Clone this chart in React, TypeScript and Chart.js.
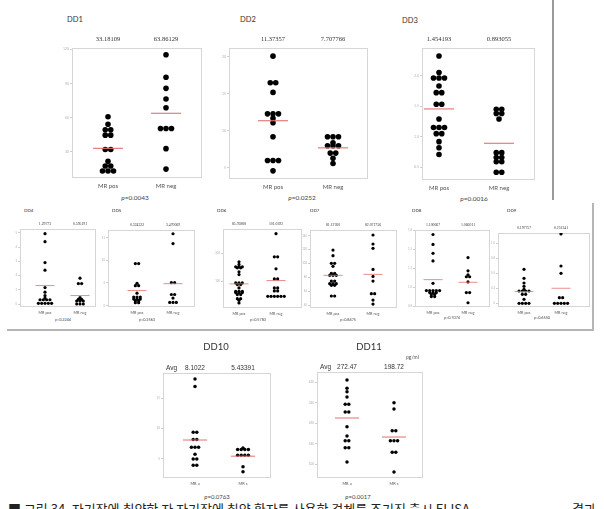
import React, { useEffect, useRef } from "react";
import { Chart, registerables } from "chart.js";
Chart.register(...registerables);

// ---------- data ----------
const categories = ["MR pos", "MR neg"];
const shortCategories = ["MR a", "MR s"];

const dd1Pos = [60.8, 54.3, 49.4, 49.4, 44.7, 44.7, 32.1, 32.1, 21.8, 17.7, 17.7, 13.3, 13.3, 13.3];
const dd1Neg = [115.1, 95.4, 85.7, 76.3, 68.7, 50.5, 50.5, 50.5, 32.9, 15.0];
const dd1Means = [33.18109, 63.86129];
const dd1Avg = ["33.18109", "63.86129"];
const dd1Ticks = [30, 60, 90, 120];
const dd1P = "0.0043";

const dd2Pos = [20.1, 16.5, 16.5, 15.2, 12.3, 12.3, 12.3, 11.7, 11.1, 9.2, 6.0, 6.0, 6.0, 4.6];
const dd2Neg = [9.2, 9.2, 9.2, 8.4, 8.0, 8.0, 8.0, 7.0, 7.0, 6.3, 5.6];
const dd2Means = [11.37357, 7.707766];
const dd2Avg = ["11.37357", "7.707766"];
const dd2Ticks = [5, 10, 15, 20];
const dd2P = "0.0252";

const dd3Pos = [2.32, 2.05, 1.96, 1.96, 1.96, 1.83, 1.72, 1.72, 1.53, 1.53, 1.29, 1.15, 1.15, 1.15, 1.05, 1.05, 0.92, 0.82, 0.71];
const dd3Neg = [1.45, 1.45, 1.38, 1.38, 1.29, 0.74, 0.74, 0.66, 0.66, 0.59, 0.59, 0.42, 0.42];
const dd3Means = [1.454193, 0.893055];
const dd3Avg = ["1.454193", "0.893055"];
const dd3Ticks = [0.5, 1.0, 1.5, 2.0];
const dd3P = "0.0016";

const dd4Pos = [4.95, 4.39, 2.92, 2.38, 1.16, 0.83, 0.59, 0.42, 0.3, 0.3, 0.3, 0.3, 0.05, 0.05, 0.05, 0.05, 0.05];
const dd4Neg = [1.82, 1.44, 1.44, 0.45, 0.33, 0.33, 0.21, 0.21, 0.21, 0.0, 0.0, 0.0];
const dd4Means = [1.298, 0.595];
const dd4Avg = ["1.29773", "0.595191"];
const dd4Ticks = [0, 1, 2, 3, 4, 5];
const dd4P = "0.2244";

const dd5Pos = [9.28, 9.28, 4.93, 4.41, 4.41, 2.76, 1.89, 1.89, 1.89, 1.46, 1.46, 1.46, 1.09, 1.09, 0.65, 0.65];
const dd5Neg = [15.87, 13.7, 5.07, 5.07, 2.46, 2.46, 1.67, 0.72, 0.72, 0.72];
const dd5Means = [3.33, 4.85];
const dd5Avg = ["0.324322", "3.470069"];
const dd5Ticks = [0, 5, 10, 15];
const dd5P = "0.2563";

const dd6Pos = [169.9, 160.3, 151.8, 151.8, 151.8, 148.2, 148.2, 133.7, 124.1, 94, 94, 94, 88, 88, 75.9, 63.9, 63.9, 63.9, 59, 59, 59, 51.8, 51.8, 37.3, 37.3, 31.3, 21.7];
const dd6Neg = [271.1, 188, 188, 144.6, 108.4, 108.4, 75.9, 75.9, 65, 65, 45.8, 45.8, 45.8, 45.8, 45.8, 45.8];
const dd6Means = [90.4, 102.4];
const dd6Avg = ["85.76808", "101.0392"];
const dd6Ticks = [100, 200];
const dd6P = "0.5783";

const dd7Pos = [119.3, 111.2, 100.1, 100.1, 95.8, 85.7, 85.7, 82.8, 82.8, 82.8, 74.6, 74.6, 70.8, 70.8, 70.8, 68.4, 68.4, 53.0, 53.0];
const dd7Neg = [141, 128, 121.7, 91.4, 81.3, 74.6, 56.3, 56.3, 47.2, 41.4];
const dd7Means = [82.8, 84.2];
const dd7Avg = ["81.12760", "82.071756"];
const dd7Ticks = [40, 60, 80, 100, 120, 140];
const dd7P = "0.8475";

const dd8Pos = [1.696, 1.565, 1.448, 1.348, 1.052, 0.957, 0.957, 0.957, 0.957, 0.957, 0.93, 0.93, 0.93, 0.904, 0.904, 0.878, 0.878];
const dd8Neg = [1.391, 1.217, 1.165, 1.139, 1.139, 1.07, 0.93, 0.93, 0.796];
const dd8Means = [1.100667, 1.066011];
const dd8Avg = ["1.100667", "1.066011"];
const dd8Ticks = [0.75, 1.0, 1.25, 1.5, 1.75];
const dd8P = "0.7074";

const dd9Pos = [0.567, 0.417, 0.339, 0.283, 0.233, 0.206, 0.206, 0.206, 0.206, 0.15, 0.15, 0.067, 0, 0, 0, 0];
const dd9Neg = [1.156, 0.622, 0.5, 0.094, 0.094, 0, 0, 0, 0, 0];
const dd9Means = [0.197757, 0.251241];
const dd9Avg = ["0.197757", "0.251241"];
const dd9Ticks = [0, 0.25, 0.5, 0.75, 1.0];
const dd9P = "0.6550";

const dd10Pos = [18.17, 16.95, 9.38, 9.38, 8.17, 8.17, 6.92, 6.92, 6.92, 5.75, 4.97, 4.97, 3.92, 3.92];
const dd10Neg = [6.8, 6.55, 6.55, 6.55, 6.55, 5.6, 5.6, 5.6, 5.6, 3.67, 2.88];
const dd10Means = [8.1022, 5.4339];
const dd10Avg = ["8.1022", "5.43391"];
const dd10Ticks = [5, 10, 15];
const dd10P = "0.0763";

const dd11Pos = [429, 396.6, 383.3, 362.6, 334.1, 334.1, 304.1, 304.1, 246.7, 210.4, 192.1, 192.1, 164.8, 164.8, 109];
const dd11Neg = [340.4, 315.8, 231.1, 231.1, 192.1, 192.1, 192.1, 146.8, 146.8, 69.8];
const dd11Means = [280.7, 206.5];
const dd11Avg = ["272.47", "198.72"];
const dd11Ticks = [100, 180, 260, 340, 420];
const dd11P = "0.0017";

// ---------- layout ----------
type Size = "L" | "M" | "S";
type Panel = {
  name: string; pos: number[]; neg: number[]; means: number[]; avg: string[];
  ticks: number[]; yMin: number; yMax: number; p: string; cats: string[];
  box: number[]; cols: number[]; size: Size; title: number[]; pAt: number[]; avgPrefix?: boolean;
};

const STY: Record<Size, any> = {
  L: { r: 2.8, gap: 5.5, half: 15, lw: 1.1, padT: 14, padB: 13, padL: 16, padR: 3, avgFont: '6.5px "Liberation Serif"', avgOff: 9, xFont: 6, xPad: 4, tFont: 7.5, pFont: 6.5, tickFont: 3.5 },
  M: { r: 1.6, gap: 3.3, half: 9.5, lw: 0.8, padT: 9, padB: 10, padL: 14, padR: 3, avgFont: '3.8px "Liberation Serif"', avgOff: 5, xFont: 3.8, xPad: 3.5, tFont: 4.5, pFont: 3.8, tickFont: 2.8 },
  S: { r: 1.75, gap: 3.6, half: 12, lw: 1, padT: 9, padB: 9, padL: 14, padR: 3, avgFont: '6.5px "Liberation Sans"', avgOff: 5, xFont: 4, xPad: 3, tFont: 9.5, pFont: 6, tickFont: 3 },
};

const panels: Panel[] = [
  { name: "DD1", pos: dd1Pos, neg: dd1Neg, means: dd1Means, avg: dd1Avg, ticks: dd1Ticks, yMin: 7.2, yMax: 121, p: dd1P, cats: categories, box: [72, 48, 202, 178], cols: [108, 166], size: "L", title: [67, 19], pAt: [135, 198] },
  { name: "DD2", pos: dd2Pos, neg: dd2Neg, means: dd2Means, avg: dd2Avg, ticks: dd2Ticks, yMin: 3.5, yMax: 21.2, p: dd2P, cats: categories, box: [229, 48, 368, 179], cols: [273, 333], size: "L", title: [240, 19], pAt: [302, 198] },
  { name: "DD3", pos: dd3Pos, neg: dd3Neg, means: dd3Means, avg: dd3Avg, ticks: dd3Ticks, yMin: 0.293, yMax: 2.45, p: dd3P, cats: categories, box: [422, 48, 535, 180], cols: [439, 499], size: "L", title: [402, 20], pAt: [474, 199] },
  { name: "DD4", pos: dd4Pos, neg: dd4Neg, means: dd4Means, avg: dd4Avg, ticks: dd4Ticks, yMin: -0.21, yMax: 5.28, p: dd4P, cats: categories, box: [20, 229, 96, 307], cols: [45, 80], size: "M", title: [24, 211], pAt: [63, 320] },
  { name: "DD5", pos: dd5Pos, neg: dd5Neg, means: dd5Means, avg: dd5Avg, ticks: dd5Ticks, yMin: -0.3, yMax: 16.7, p: dd5P, cats: categories, box: [108, 230, 195, 307], cols: [137, 173], size: "M", title: [112, 211], pAt: [147, 320] },
  { name: "DD6", pos: dd6Pos, neg: dd6Neg, means: dd6Means, avg: dd6Avg, ticks: dd6Ticks, yMin: 3.6, yMax: 288, p: dd6P, cats: categories, box: [223, 229, 302, 308], cols: [239, 276], size: "M", title: [217, 211], pAt: [258, 320] },
  { name: "DD7", pos: dd7Pos, neg: dd7Neg, means: dd7Means, avg: dd7Avg, ticks: dd7Ticks, yMin: 35.7, yMax: 148.2, p: dd7P, cats: categories, box: [310, 230, 397, 308], cols: [333, 373], size: "M", title: [310, 211], pAt: [348, 320] },
  { name: "DD8", pos: dd8Pos, neg: dd8Neg, means: dd8Means, avg: dd8Avg, ticks: dd8Ticks, yMin: 0.74, yMax: 1.755, p: dd8P, cats: categories, box: [415, 230, 490, 307], cols: [433, 468], size: "M", title: [412, 211], pAt: [452, 318] },
  { name: "DD9", pos: dd9Pos, neg: dd9Neg, means: dd9Means, avg: dd9Avg, ticks: dd9Ticks, yMin: -0.061, yMax: 1.172, p: dd9P, cats: categories, box: [498, 233, 590, 307], cols: [524, 561], size: "M", title: [507, 211], pAt: [542, 318] },
  { name: "DD10", pos: dd10Pos, neg: dd10Neg, means: dd10Means, avg: dd10Avg, ticks: dd10Ticks, yMin: 1.83, yMax: 19.17, p: dd10P, cats: shortCategories, box: [163, 373, 271, 478], cols: [195, 243], size: "S", title: [216, 347], pAt: [217, 497], avgPrefix: true },
  { name: "DD11", pos: dd11Pos, neg: dd11Neg, means: dd11Means, avg: dd11Avg, ticks: dd11Ticks, yMin: 46.6, yMax: 460.2, p: dd11P, cats: shortCategories, box: [317, 372, 423, 478], cols: [347, 394], size: "S", title: [369, 347], pAt: [358, 497], avgPrefix: true },
];

function swarm(vals: number[], col: number, step: number) {
  const counts = new Map<number, number>();
  vals.forEach((v) => counts.set(v, (counts.get(v) || 0) + 1));
  const seen = new Map<number, number>();
  return vals.map((v) => {
    const k = counts.get(v) as number;
    const i = seen.get(v) || 0;
    seen.set(v, i + 1);
    return { x: col + (i - (k - 1) / 2) * step, y: v };
  });
}

function PanelChart({ p }: { p: Panel }) {
  const ref = useRef<HTMLCanvasElement>(null);
  const s = STY[p.size];
  const [l, t, r, b] = p.box;
  const W = r - l + s.padL + s.padR;
  const H = b - t + s.padT + s.padB;
  useEffect(() => {
    const unitPx = p.cols[1] - p.cols[0];
    const xMin = -(p.cols[0] - l) / unitPx;
    const xMax = 1 + (r - p.cols[1]) / unitPx;
    const step = s.gap / unitPx;
    const half = s.half / unitPx;
    const datasets: any[] = [
      ...[p.pos, p.neg].map((vals, i) => ({
        data: swarm(vals, i, step), pointRadius: s.r, pointHoverRadius: s.r,
        backgroundColor: "#000", borderColor: "#000", borderWidth: 0, order: 2,
      })),
      ...p.means.map((m, i) => ({
        data: [{ x: i - half, y: m }, { x: i + half, y: m }], showLine: true,
        borderColor: "#e46f6f", borderWidth: s.lw, pointRadius: 0, order: 1,
      })),
    ];
    const deco = {
      id: "deco",
      beforeDatasetsDraw(chart: any) {
        const { ctx, chartArea: a } = chart;
        ctx.save();
        ctx.strokeStyle = "#d6d6d6";
        ctx.lineWidth = 1;
        ctx.strokeRect(Math.round(a.left) + 0.5, Math.round(a.top) + 0.5, Math.round(a.right - a.left) - 1, Math.round(a.bottom - a.top) - 1);
        ctx.restore();
      },
      afterDraw(chart: any) {
        const { ctx, chartArea: a, scales } = chart;
        ctx.save();
        ctx.fillStyle = "#333";
        ctx.font = s.avgFont;
        ctx.textBaseline = "middle";
        ctx.textAlign = "center";
        p.avg.forEach((txt, i) => ctx.fillText(txt, scales.x.getPixelForValue(i), a.top - s.avgOff));
        if (p.avgPrefix) {
          ctx.textAlign = "left";
          ctx.fillText("Avg", a.left + 3, a.top - s.avgOff);
        }
        ctx.restore();
      },
    };
    const chart = new Chart(ref.current as HTMLCanvasElement, {
      type: "scatter",
      data: { datasets },
      options: {
        animation: false,
        responsive: false,
        maintainAspectRatio: false,
        devicePixelRatio: 1,
        layout: { padding: { top: s.padT, right: s.padR, left: 0, bottom: 0 } },
        plugins: { legend: { display: false }, tooltip: { enabled: false } },
        scales: {
          x: {
            type: "linear", min: xMin, max: xMax,
            afterBuildTicks: (ax: any) => { ax.ticks = [{ value: 0 }, { value: 1 }]; },
            afterFit: (ax: any) => { ax.height = s.padB; },
            grid: { display: false, drawTicks: false },
            border: { display: false },
            ticks: {
              autoSkip: false, maxRotation: 0, padding: s.xPad, color: "#555",
              font: { size: s.xFont, family: "Lato" },
              callback: (v: any) => p.cats[Math.round(Number(v))],
            },
          },
          y: {
            type: "linear", min: p.yMin, max: p.yMax,
            afterBuildTicks: (ax: any) => { ax.ticks = p.ticks.map((v) => ({ value: v })); },
            afterFit: (ax: any) => { ax.width = s.padL; },
            grid: { drawOnChartArea: false, drawTicks: true, tickLength: 2, color: "#cfcfcf" },
            border: { display: false },
            ticks: { color: "#b0b0b0", padding: 1, font: { size: s.tickFont, family: "Lato" } },
          },
        },
      },
      plugins: [deco],
    } as any);
    return () => chart.destroy();
  }, []);
  return (
    <canvas ref={ref} width={W} height={H}
      style={{ position: "absolute", left: l - s.padL, top: t - s.padT, width: W, height: H }} />
  );
}

function Txt({ x, y, size, children, center, family, color, italic }: any) {
  return (
    <div style={{
      position: "absolute", left: x, top: y - size * 0.6, fontSize: size, lineHeight: 1.2,
      whiteSpace: "nowrap", transform: center ? "translateX(-50%)" : undefined,
      fontFamily: family || "Lato, sans-serif", color: color || "#333", fontStyle: italic ? "italic" : "normal",
    }}>{children}</div>
  );
}

export default function App() {
  return (
    <div style={{ position: "absolute", left: 0, top: 0, width: 604, height: 509, overflow: "hidden", background: "#fff" }}>
      {/* frame lines */}
      <div style={{ position: "absolute", left: 552, top: 0, width: 1.5, height: 200, background: "#9a9a9a" }} />
      <div style={{ position: "absolute", left: 592, top: 203, width: 2, height: 128, background: "#b5b5b5" }} />
      <div style={{ position: "absolute", left: 7, top: 329, width: 587, height: 2, background: "#b5b5b5" }} />

      {panels.map((p) => {
        const s = STY[p.size];
        return (
          <React.Fragment key={p.name}>
            <PanelChart p={p} />
            <Txt x={p.title[0]} y={p.title[1]} size={s.tFont} center={p.size === "S"} color="#333">{p.name}</Txt>
            <Txt x={p.pAt[0]} y={p.pAt[1]} size={s.pFont} center color="#444">
              <i>p</i>={p.p}
            </Txt>
          </React.Fragment>
        );
      })}
      <Txt x={406} y={357} size={5} color="#555">pg/ml</Txt>

      {/* caption (cut off at the bottom) */}
      <div style={{ position: "absolute", left: 8, top: 501, fontSize: 13, lineHeight: "16px", whiteSpace: "nowrap", color: "#222", fontFamily: '"Noto Sans CJK KR", sans-serif' }}>
        ■ 그림 34. 자기장에 취약한 자 자기장에 취약 환자를 사용한 검체를 조기진 출시 ELISA
      </div>
      <div style={{ position: "absolute", left: 572, top: 501, fontSize: 13, lineHeight: "16px", whiteSpace: "nowrap", color: "#222", fontFamily: '"Noto Sans CJK KR", sans-serif' }}>
        결과
      </div>
    </div>
  );
}
